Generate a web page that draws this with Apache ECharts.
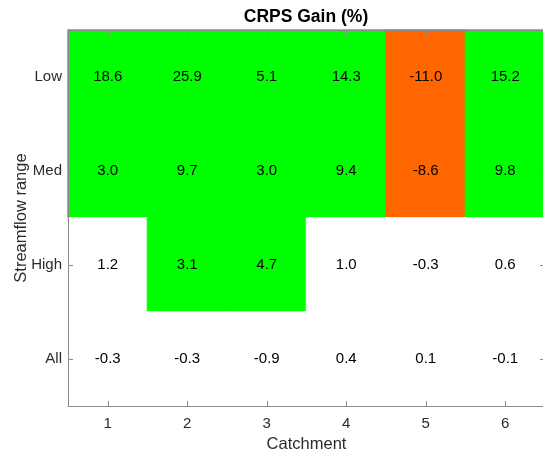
<!DOCTYPE html>
<html>
<head>
<meta charset="utf-8">
<script src="https://cdn.jsdelivr.net/npm/echarts@6/dist/echarts.min.js"></script>
<style>
  html, body { margin: 0; padding: 0; background: #fff; }
  #chart { width: 543px; height: 455px; }
</style>
</head>
<body>
<div id="chart"></div>
<script>
// Catchments along x, streamflow ranges down y
const catchments = ['1', '2', '3', '4', '5', '6'];
const ranges = ['Low', 'Med', 'High', 'All'];

// CRPS gain (%) per range, one value per catchment
const gainLow  = [18.6, 25.9, 5.1, 14.3, -11.0, 15.2];
const gainMed  = [3.0, 9.7, 3.0, 9.4, -8.6, 9.8];
const gainHigh = [1.2, 3.1, 4.7, 1.0, -0.3, 0.6];
const gainAll  = [-0.3, -0.3, -0.9, 0.4, 0.1, -0.1];

// Significance: 1 = significant gain, -1 = significant loss, 0 = not significant
const sigLow  = [1, 1, 1, 1, -1, 1];
const sigMed  = [1, 1, 1, 1, -1, 1];
const sigHigh = [0, 1, 1, 0, 0, 0];
const sigAll  = [0, 0, 0, 0, 0, 0];

const gains = [gainLow, gainMed, gainHigh, gainAll];
const sigs = [sigLow, sigMed, sigHigh, sigAll];

const sigColor = { '1': '#00ff00', '-1': '#ff6600', '0': '#ffffff' };

const cells = [];
ranges.forEach((r, ri) => {
  catchments.forEach((c, ci) => {
    const col = sigColor[String(sigs[ri][ci])];
    cells.push({
      value: [ci, ri, gains[ri][ci]],
      // border in the fill colour hides anti-aliasing seams between cells
      itemStyle: { color: col, borderColor: col, borderWidth: 1 }
    });
  });
});

const axisGray = '#8a8a8a';
const labelColor = '#2b2b2b';
const fontFamily = '"Liberation Sans", Arial, Helvetica, sans-serif';

const tickStyle = { show: true, inside: true, alignWithLabel: true, length: 5, lineStyle: { color: axisGray } };
const lineStyle = { show: true, lineStyle: { color: axisGray, width: 1 } };

const chart = echarts.init(document.getElementById('chart'), null, { renderer: 'canvas' });

chart.setOption({
  backgroundColor: '#ffffff',
  animation: false,
  title: {
    text: 'CRPS Gain (%)',
    left: 301,
    textAlign: 'center',
    top: 3,
    textStyle: { fontFamily, fontSize: 17.5, fontWeight: 'bold', color: '#000' }
  },
  grid: { left: 68, top: 30, right: -2, bottom: 49, containLabel: false, outerBoundsMode: 'none' },
  xAxis: [
    {
      type: 'category',
      data: catchments,
      position: 'bottom',
      z: 10,
      name: 'Catchment',
      nameLocation: 'middle',
      nameGap: 30,
      nameMoveOverlap: false,
      nameTextStyle: { fontFamily, fontSize: 16.5, color: labelColor },
      axisLine: lineStyle,
      axisTick: tickStyle,
      axisLabel: { fontFamily, fontSize: 15, color: labelColor, margin: 10 },
      splitLine: { show: false }
    },
    {
      type: 'category',
      data: catchments,
      position: 'top',
      z: 10,
      axisLine: lineStyle,
      axisTick: tickStyle,
      axisLabel: { show: false },
      splitLine: { show: false }
    }
  ],
  yAxis: [
    {
      type: 'category',
      data: ranges,
      inverse: true,
      position: 'left',
      z: 10,
      name: 'Streamflow range',
      nameLocation: 'middle',
      nameGap: 38,
      nameMoveOverlap: false,
      nameTextStyle: { fontFamily, fontSize: 16.5, color: labelColor },
      axisLine: lineStyle,
      axisTick: tickStyle,
      axisLabel: { fontFamily, fontSize: 15, color: labelColor, margin: 6 },
      splitLine: { show: false }
    },
    {
      type: 'category',
      data: ranges,
      inverse: true,
      position: 'right',
      z: 10,
      axisLine: lineStyle,
      axisTick: tickStyle,
      axisLabel: { show: false },
      splitLine: { show: false }
    }
  ],
  series: [{
    type: 'heatmap',
    xAxisIndex: 0,
    yAxisIndex: 0,
    data: cells,
    label: {
      show: true,
      fontFamily,
      fontSize: 15,
      color: '#000',
      formatter: p => p.value[2].toFixed(1)
    },
    emphasis: { disabled: true }
  }]
});
</script>
</body>
</html>
